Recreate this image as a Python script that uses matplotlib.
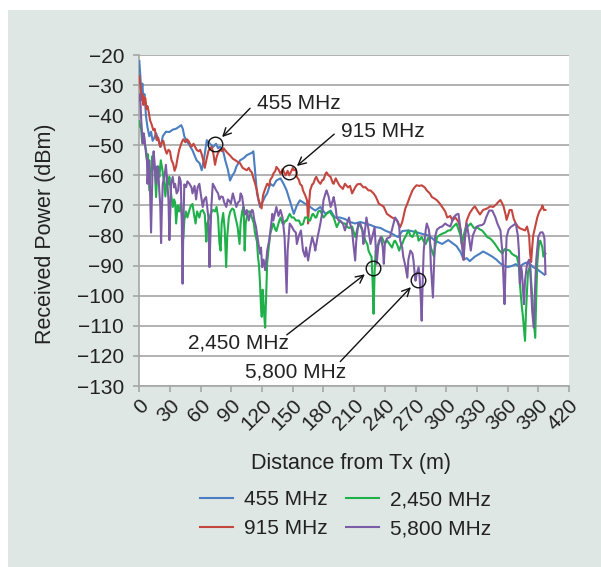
import numpy as np
import matplotlib
matplotlib.use("Agg")
import matplotlib.pyplot as plt
from matplotlib.patches import Rectangle

plt.rcParams['font.family'] = ['Liberation Sans', 'DejaVu Sans']

# distance (m) / received power (dBm)
d_455 = [0, 1, 2, 3, 4, 5, 6.6, 8, 9.8, 11.5, 13, 14.7, 16.4, 18, 19.6, 21, 22.9, 26, 29.4, 32.7,
         36, 39, 41, 42.5, 44, 45.7, 49, 52, 56, 59, 61, 63, 66, 69, 72.4, 75, 77, 79, 82, 84,
         86.5, 88.7, 91, 93, 95, 98.5, 101, 103, 105, 108, 110, 111.5, 113, 115, 116.5, 118, 121, 123, 125, 128,
         131, 134, 138, 141, 144, 147, 149, 151, 154, 157, 162, 167, 172, 177, 182, 187, 191, 196, 201, 206,
         211, 216, 221, 226, 231, 236, 240, 245, 250, 253, 257, 263, 270, 276, 283, 289, 296, 302, 306, 310,
         314, 317, 320, 323, 328, 333, 336, 340, 345, 349, 352, 355, 360, 365, 368, 372, 375, 378, 382, 385,
         388, 392, 396]
p_455 = [-22, -27, -32.8, -29.5, -35, -33, -40.5, -44, -47, -45.5, -48.5, -47.5, -46, -47.5, -49.4, -50.5, -47, -45.5, -45.6, -44.8,
         -44.5, -43.8, -43.3, -44.5, -47, -48.3, -50, -51.7, -55, -56, -58.3, -55, -48.3, -49.5, -50.5, -49.5, -51, -50.5, -52, -55,
         -58, -61.7, -60, -59, -57, -55, -54.5, -54, -53.3, -52.8, -52.5, -52, -58, -66, -68.3, -70.5, -68.5, -67, -66, -62.8,
         -63.5, -61.7, -61, -62.8, -65, -68.3, -70.5, -72.8, -70, -68.3, -69.4, -70.5, -71.7, -70.5, -72.8, -71.7, -74, -74, -74.5, -75.5,
         -76, -75.5, -76, -76.5, -77.2, -77.5, -78.3, -79, -80, -80.5, -78.5, -78.3, -78.8, -79.4, -80, -81.7, -82.8, -81.5, -82.5, -83.5,
         -85.5, -88, -87.5, -88.5, -87, -86, -85.3, -86, -87, -88, -89, -89.8, -90.5, -90, -89.5, -90.5, -89.5, -89, -89.5, -90.5,
         -91, -92, -93]

d_915 = [0, 1, 2, 3, 4, 5, 6, 7, 8, 9, 10.5, 12, 13.7, 15, 17, 18.5, 20.3, 22, 23.5, 25,
         26.8, 28.5, 30, 31.5, 33, 34.5, 36, 37.5, 39, 40, 41.5, 43, 45, 46.5, 48, 49.5, 51, 53, 54.5, 56,
         58, 59.5, 61, 62.5, 64, 65.5, 67.5, 69, 70.8, 72.5, 74, 75.5, 77, 79, 81, 82.5, 84, 86, 89, 91.5,
         94, 96, 98.5, 101, 103.5, 105, 107, 108.5, 110, 111.6, 113, 115, 116.5, 118, 119.5, 121, 123, 125, 127, 128,
         130, 131, 133, 134, 136, 138, 140, 141, 143, 145, 146.5, 148, 150, 151, 153, 154, 156, 157, 159, 160,
         162, 164, 165, 166, 167, 169, 170, 172, 173, 175, 177, 179, 180, 182, 183, 185, 187, 189, 190, 192,
         193, 195, 196, 199, 201, 204, 206, 208, 211, 213, 216, 219, 221, 224, 226, 229, 231, 233, 234, 237,
         239, 241, 242, 245, 247, 250, 252, 254, 255, 257, 258, 260, 262, 264, 267, 269, 271, 274, 276, 279,
         281, 284, 286, 289, 291, 294, 296, 299, 301, 304, 306, 309, 312, 314, 316, 317, 318, 320, 323, 326,
         328, 331, 333, 336, 340, 343, 346, 349, 351, 353, 355, 356, 358, 359, 362, 364, 366, 368, 370, 372,
         375, 377, 379, 381, 382, 383, 384, 385, 387, 389, 391, 393, 394, 395.5, 397]
p_915 = [-27, -30, -35, -33, -36.6, -34, -34.5, -38, -37, -38.5, -41.7, -43, -45, -44.5, -48.3, -47.5, -50.5, -49, -48.5, -51,
         -52.8, -51.5, -52, -55, -56, -58.5, -57, -54, -51.5, -50.5, -49, -48, -49, -48, -48.5, -49.5, -50.5, -49.5, -50.5, -51.5,
         -52, -51.5, -53, -55, -57.5, -55, -52, -51, -50.5, -53, -56.5, -54, -52.5, -51.5, -52, -51, -51.7, -52.5, -53.5, -54.5,
         -55, -55.5, -56, -57.5, -58, -58.3, -57.5, -58.5, -59, -61, -62.5, -65, -68, -69.5, -71, -66.5, -64.5, -62.8, -63.5, -61.5,
         -60.5, -59.4, -58.5, -57.2, -58, -59.5, -58, -58.6, -60, -58.5, -60, -59, -57.5, -58.3, -58, -60.5, -61.5, -62.8, -63.5, -65,
         -66.5, -68.3, -76, -69, -65, -63, -62.8, -61, -60.5, -62, -62.8, -61.5, -61.5, -59.5, -59, -60, -60.5, -62.5, -62.8, -61,
         -61.7, -63, -63.5, -64.5, -62.8, -64, -63.5, -66, -64, -63, -62.8, -64, -63.9, -65, -65, -66, -67, -68.5, -69.4, -70,
         -70.5, -72, -72.8, -73.5, -74, -74.5, -75, -76.5, -77.2, -75.5, -74, -71, -69.4, -67.5, -65, -64, -63.3, -63.5, -63.3, -64,
         -65, -66, -67.2, -67.8, -68.3, -69.5, -70.5, -72, -74, -73.5, -75, -74, -75.5, -78, -84, -88, -80, -75, -72.5, -71,
         -70.3, -72, -73, -71.5, -71, -70.3, -70.5, -69.6, -68.8, -68.2, -69.5, -70.3, -73, -74.8, -71.5, -71.5, -74.5, -76, -77, -77.6,
         -78, -78.3, -77, -80, -86, -88.8, -84, -80, -77, -74, -72, -71, -70, -71.5, -71.5]

d_2450 = [0, 1, 1.7, 2.5, 3.3, 4.5, 5.5, 6.6, 7.5, 8.5, 9.8, 11, 12, 13, 14, 15, 16.4, 17.5, 18.5, 19.6,
          21, 22.5, 24, 25.5, 27, 28.5, 29.4, 31, 32.7, 34, 35, 36, 37.5, 39, 40.5, 41.5, 43, 44, 45.5, 47,
          49, 50.5, 52, 53.5, 55, 56.5, 58.7, 60, 62, 64, 65.5, 66.5, 68.6, 70, 72, 74, 75.5, 77, 78.3, 79.5,
          80.5, 82, 83.5, 84.9, 86, 87.5, 89, 91, 92.5, 94, 96, 98, 99, 100.5, 102, 103, 104, 106, 108, 110,
          112, 113, 115, 116, 117, 118, 119, 119.7, 120.5, 121, 122, 123, 124, 125, 126.5, 128, 130, 131, 133, 134,
          136, 138, 140, 141, 143, 144, 146, 147, 149, 151, 153, 156, 158, 160, 162, 164, 166, 167, 169, 170,
          172, 173, 175, 177, 180, 183, 186, 188, 190, 193, 196, 199, 201, 203, 205, 208, 211, 213, 215, 218,
          221, 223, 224, 226, 227, 228, 229, 230, 231, 233, 234, 236, 237, 239, 240, 242, 245, 247, 249, 250,
          252, 254, 256, 257, 259, 260, 262, 263, 265, 267, 269, 270, 272, 273, 275, 276, 278, 280, 282, 283,
          285, 286, 288, 289, 291, 293, 296, 299, 302, 304, 307, 310, 312, 314, 315, 317, 319, 321, 324, 327,
          330, 333, 335, 338, 340, 343, 345, 347, 350, 352, 355, 357, 360, 362, 364, 366, 369, 371, 372, 373,
          374, 375, 376, 377, 378, 379, 380, 382, 383, 384, 385, 386, 387, 388, 389, 390, 391, 392, 394, 395,
          397]
p_2450 = [-42, -44, -44, -48, -49.4, -47, -50, -51.7, -55, -53, -65, -60, -56, -53.5, -58, -57, -67.2, -60, -57, -60.5,
          -55, -58, -62, -67, -60, -63, -60.5, -66, -70.5, -68, -69, -76, -70, -72, -69.5, -73, -81, -75, -72, -74,
          -71.5, -70, -69.5, -73, -76, -72, -74, -72, -71.5, -73, -82, -76, -74, -72.5, -71.5, -72, -70.5, -74, -82.5, -85,
          -76, -72.5, -78, -90.5, -80, -74, -72, -71, -71.5, -74, -77, -82.8, -76, -72, -70.5, -85, -76, -72, -72, -74,
          -76, -79, -82, -87, -90, -96, -104, -107, -98, -100, -106, -110.6, -100, -89, -84, -79.4, -77, -76, -78, -78.5,
          -76, -74, -76, -76.2, -75, -75.1, -73.5, -72.8, -74, -74, -75, -75, -76.5, -76.2, -74, -74, -75, -75, -73, -72.8,
          -74, -74, -72, -71.7, -74, -72.8, -72, -73, -74, -77.2, -75, -76, -76, -77, -77.5, -77, -80.5, -78, -76, -78.3,
          -81.7, -83, -85, -86.5, -87, -95, -106, -92, -85, -83, -82.8, -81, -80.5, -82, -82.8, -81.5, -83, -84, -82, -81.7,
          -83, -85, -83, -82.8, -81, -80.5, -79, -78.3, -80, -80.5, -79, -78.3, -80, -81.7, -81, -80.5, -82, -82.8, -81, -80.5,
          -84, -85, -87, -84, -80.5, -80, -79.4, -79, -78.3, -78.3, -77, -76, -78, -80, -82.8, -80, -77.5, -77, -76, -77.5,
          -77.2, -78, -78.3, -79.5, -80.5, -81, -81.7, -82.5, -84, -85, -86, -84.5, -84.8, -85, -86, -86.5, -87, -90, -96, -100,
          -104, -107, -111, -115, -105, -98, -92, -90, -95, -100, -106, -110, -114, -100, -89.4, -85, -82, -81.7, -84, -87,
          -86]

d_5800 = [0, 0.8, 1.7, 2.5, 3.3, 4.2, 5, 6.6, 7.5, 8, 9, 9.8, 10.5, 11.5, 12.2, 13, 14, 15, 16.4, 17.5,
          18.5, 19.6, 20.5, 21.3, 22, 22.9, 24.5, 26, 27.5, 28.5, 29.4, 30.5, 31, 32.7, 34, 35, 36.5, 38, 39, 40.5,
          41.5, 42.3, 43, 44, 45.7, 47, 49, 51, 52, 54, 55.5, 57, 58.7, 60, 62, 63.5, 65.3, 66.5, 67.5, 68.6,
          69.5, 70.5, 71.8, 73, 75, 77, 78.3, 80, 81.6, 83, 85, 86.5, 88, 89.5, 91.4, 93, 94.8, 96.5, 98.1, 99,
          100.5, 102, 103.5, 105, 107, 108.5, 110, 111, 112.5, 114, 116, 118, 119, 120, 121.5, 123, 124.5, 125, 127, 129,
          130, 131, 133, 134, 136, 138, 140, 142, 143, 144, 145, 147, 149, 151, 153, 154, 156, 158, 160, 162,
          163, 165, 167, 169, 171, 172, 174, 177, 179, 180, 182, 183, 185, 187, 189, 190, 192, 193, 195, 196,
          199, 201, 203, 205, 206, 208, 209, 211, 212, 214, 216, 218, 219, 220, 222, 224, 226, 228, 230, 232,
          234, 236, 238, 239, 240, 242, 245, 247, 250, 252, 254, 255, 257, 258, 260, 262, 263, 265, 267, 268,
          269, 270, 271, 273, 274, 275, 276, 277, 278, 280, 281, 283, 284, 285, 287, 288, 289, 291, 294, 296,
          299, 301, 304, 307, 310, 312, 314, 315, 317, 318, 320, 322, 324, 326, 328, 330, 332, 335, 337, 339,
          342, 345, 348, 350, 353, 355, 356, 357, 358, 359, 361, 363, 366, 368, 370, 371, 372, 373, 374, 375,
          376, 377, 379, 381, 382, 383, 384, 385.5, 387, 388, 390, 392, 394, 395, 396, 397]
p_5800 = [-35, -33, -40.5, -45, -49.4, -46, -47.5, -52.8, -55, -62.8, -57, -55, -65, -79, -68, -57, -52, -56, -62.8, -57,
          -58, -65.5, -70, -82.5, -72, -62.8, -60.5, -56.5, -63, -68, -81.5, -70, -62.8, -60.5, -64, -62.8, -66, -65, -60.5, -62,
          -75, -96, -78, -63, -63.9, -62, -62.8, -64, -66, -63.5, -68, -64, -62.8, -66, -70.5, -68, -67.2, -71, -74, -90.5,
          -80, -70, -62.8, -63.5, -64.9, -66, -68, -67, -67.2, -69, -70.5, -68, -68.5, -69.4, -66, -68, -70.5, -69, -68.5, -66,
          -67, -71, -73, -71.5, -75, -72.8, -71.5, -71.7, -75, -77, -81.7, -86, -84, -90.5, -88, -91.5, -87, -85, -81.5, -76,
          -72.8, -75, -72, -70.5, -73.5, -71.5, -74, -80.5, -90, -99, -85, -76, -77, -78.3, -79, -82.8, -80, -78.3, -85, -87,
          -84, -88.3, -84, -80.5, -83, -85, -81, -76, -72, -68.3, -66, -65, -67, -70.5, -68.5, -67.2, -71, -74, -75, -75,
          -76, -78.3, -76, -74, -76, -78.3, -82, -88.3, -82, -76, -76, -78, -82.8, -80, -74, -78, -82.8, -80, -77.2, -89.4,
          -82, -80.5, -84, -89.4, -82.8, -81, -80.5, -78, -74, -75, -77, -81.7, -84, -87, -90, -94, -88, -85, -86, -88.3,
          -92, -95, -93, -90.5, -94, -100, -108.3, -95, -85, -78, -76, -78, -80.5, -90, -100.6, -90, -80.5, -78, -77.2, -77,
          -76, -76.5, -77, -74, -73, -72.8, -78, -82, -88, -82, -76, -80, -85, -80, -78.3, -77, -76.7, -76.5, -76, -74,
          -71.7, -71.7, -73.9, -76, -78.3, -86, -95, -102.8, -90, -80.5, -78, -77.2, -76.5, -76, -80, -85, -96, -90, -92, -98,
          -102.8, -95, -89.4, -88, -90.5, -98, -105, -110.6, -96, -88, -80.5, -79, -78.9, -79.5, -81, -92.8]

series_labels = ['455 MHz', '915 MHz', '2,450 MHz', '5,800 MHz']
series_colors = ['#4a7fc1', '#c4463f', '#1fb04a', '#7d5ca6']
xticks = list(range(0, 421, 30))
yticks = list(range(-130, -19, 10))

# annotation: text, text pos, arrow start, arrow end (circle) in data units
notes = [
    ('455 MHz', (114.9, -36.0), (108.3, -37.7), (74.3, -49.6)),
    ('915 MHz', (197.1, -45.5), (190.5, -46.3), (146.8, -59.0)),
    ('2,450 MHz', (47.7, -115.7), (144.2, -113.0), (228.0, -90.9)),
    ('5,800 MHz', (103.4, -125.3), (196.4, -121.9), (272.0, -94.8)),
]

W, H = 601, 567
fig = plt.figure(figsize=(W / 100, H / 100), dpi=100)
fig.patches.append(Rectangle((8 / W, 0), 1, 1 - 10 / H, transform=fig.transFigure,
                             facecolor='#dfe7e5', edgecolor='none', zorder=-10))

ax = fig.add_axes([139.3 / W, 1 - 386 / H, (569 - 139.3) / W, (386 - 55) / H])
ax.set_facecolor('white')

data = [(d_455, p_455), (d_915, p_915), (d_2450, p_2450), (d_5800, p_5800)]
for (d, p), lab, col in zip(data, series_labels, series_colors):
    ax.plot(d, p, color=col, lw=1.5, label=lab, zorder=3)

ax.set_xlim(0, 420)
ax.set_ylim(-130, -20)
ax.set_xticks(xticks)
ax.set_yticks(yticks)
ax.set_yticklabels([str(v).replace('-', '\u2212') for v in yticks])
ax.set_xticklabels([str(v) for v in xticks], rotation=45, ha='right', va='top',
                   rotation_mode='anchor')

grey = '#a6a6a6'
ax.yaxis.grid(True, color=grey, lw=1.2, zorder=1)
ax.set_axisbelow(True)
for s in ['top', 'right']:
    ax.spines[s].set_visible(False)
for s in ['left', 'bottom']:
    ax.spines[s].set_color(grey)
    ax.spines[s].set_linewidth(1.2)
ax.tick_params(axis='both', direction='out', length=4, width=1.2, color=grey,
               labelsize=15, labelcolor='#222222')
ax.tick_params(axis='y', pad=7)
ax.tick_params(axis='x', pad=3)

for txt, tpos, a0, a1 in notes:
    ax.text(tpos[0], tpos[1], txt, fontsize=15, color='#222222', ha='left', va='center', zorder=5)
    ax.annotate('', xy=a1, xytext=a0,
                arrowprops=dict(arrowstyle='->', color='#111111', lw=1.0,
                                shrinkA=0, shrinkB=7, mutation_scale=14), zorder=5)
    ax.plot(a1[0], a1[1], marker='o', ms=10.5, mfc='none', mec='#111111', mew=1.0, zorder=6)

fig.text(351 / W, 1 - 463 / H, 'Distance from Tx (m)', fontsize=15.5, color='#222222',
         ha='center', va='center')
fig.text(46 / W, 1 - 234 / H, 'Received Power (dBm)', fontsize=15.5, color='#222222',
         ha='center', va='center', rotation=90)

fig.legend(loc='upper left', bbox_to_anchor=(200 / W, 1 - 490 / H), ncol=2, frameon=False,
           fontsize=15, handlelength=1.6, handletextpad=0.5, columnspacing=0.9,
           labelspacing=0.5, borderpad=0, borderaxespad=0, labelcolor='#222222')

fig.savefig('out.png', dpi=100)
